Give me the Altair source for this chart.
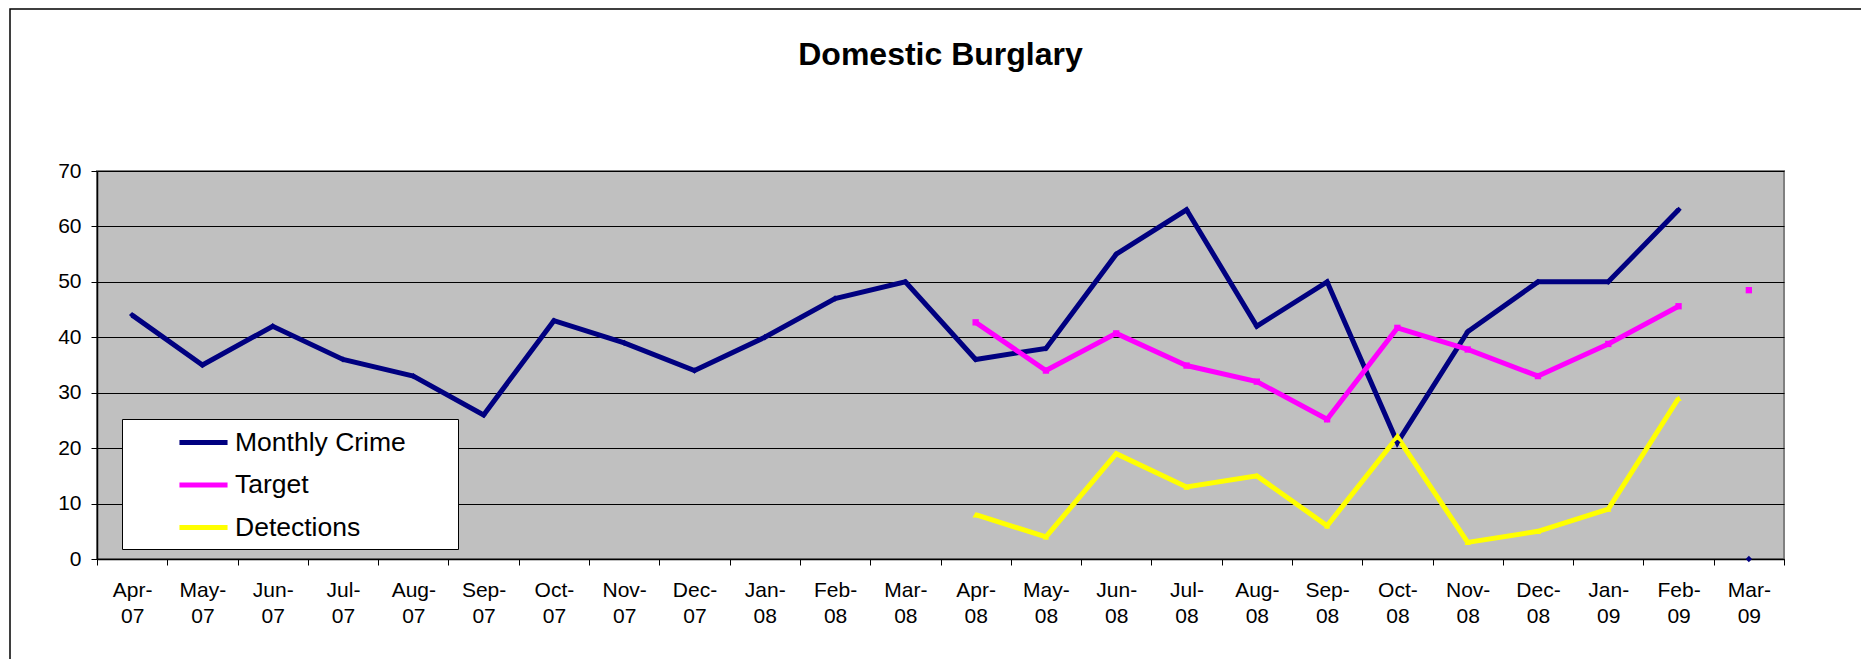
import altair as alt
import pandas as pd

months = ["Apr-07", "May-07", "Jun-07", "Jul-07", "Aug-07", "Sep-07", "Oct-07", "Nov-07",
          "Dec-07", "Jan-08", "Feb-08", "Mar-08", "Apr-08", "May-08", "Jun-08", "Jul-08",
          "Aug-08", "Sep-08", "Oct-08", "Nov-08", "Dec-08", "Jan-09", "Feb-09", "Mar-09"]

monthly_crime = [44, 35, 42, 36, 33, 26, 43, 39, 34, 40, 47, 50,
                 36, 38, 55, 63, 42, 50, 21, 41, 50, 50, 63, 0]
target = [None, None, None, None, None, None, None, None, None, None, None, None,
          42.7, 34.0, 40.7, 34.9, 32.0, 25.2, 41.7, 37.8, 33.0, 38.8, 45.6, 48.5]
detections = [None, None, None, None, None, None, None, None, None, None, None, None,
              8, 4, 19, 13, 15, 6, 22, 3, 5, 9, 29, None]

series_names = ["Monthly Crime", "Target", "Detections"]
series_colors = ["#000080", "#FF00FF", "#FFFF00"]
series_shapes = ["diamond", "square", "triangle-up"]
y_ticks = [0, 10, 20, 30, 40, 50, 60, 70]
isolated_month = "Mar-09"   # plotted as a lone marker, not joined to the line

rows = []
for name, vals in zip(series_names, [monthly_crime, target, detections]):
    for m, v in zip(months, vals):
        if v is not None:
            rows.append({"month": m, "series": name, "value": v,
                         "joined": m != isolated_month})
df = pd.DataFrame(rows)

FONT = "Liberation Sans"
PAD = "\u00a0" * 6 + "\u200b"   # widens the legend box (trailing, invisible)

x_enc = alt.X("month:N", sort=months,
              scale=alt.Scale(type="band", domain=months, paddingInner=0, paddingOuter=0),
              axis=alt.Axis(title=None, labelAngle=0, tickBand="extent", labelOverlap=False,
                            labelExpr="indexof(datum.label, '-') > 0 ? [split(datum.label, '-')[0] + '-', split(datum.label, '-')[1]] : ''",
                            labelLineHeight=26, labelPadding=14, tickSize=6,
                            labelFontSize=21, labelFont=FONT, labelColor="black",
                            domainColor="black", domainWidth=1.5, tickColor="black",
                            grid=False))
y_enc = alt.Y("value:Q",
              scale=alt.Scale(domain=[0, 70], nice=False, zero=True),
              axis=alt.Axis(title=None, values=y_ticks, labelFontSize=21, labelFont=FONT,
                            labelColor="black", labelPadding=10, tickSize=6,
                            tickColor="black", domainColor="black", domainWidth=1.5,
                            grid=True, gridColor="black", gridWidth=1))

color_scale = alt.Scale(domain=series_names, range=series_colors)

lines = alt.Chart(df).transform_filter("datum.joined").mark_line(strokeWidth=5).encode(
    x=x_enc, y=y_enc,
    color=alt.Color("series:N", scale=color_scale, sort=series_names,
                    legend=alt.Legend(title=None, orient="none", legendX=25, legendY=248,
                                      symbolType="M-1.85,0H1.85", symbolStrokeWidth=5,
                                      symbolSize=676, labelFontSize=26.5, labelFont=FONT,
                                      labelColor="black", labelLimit=500, labelOffset=16,
                                      symbolOffset=58, padding=8, rowPadding=13.5,
                                      fillColor="white", strokeColor="black",
                                      labelExpr="datum.label + '" + PAD + "'")),
)

point_layers = []
for name, col, shp in zip(series_names, series_colors, series_shapes):
    point_layers.append(
        alt.Chart(df).transform_filter(alt.datum.series == name)
        .mark_point(filled=True, opacity=1, size=40, shape=shp, color=col)
        .encode(x=x_enc, y=y_enc)
    )

frame = alt.Chart(pd.DataFrame({"a": [0]})).mark_rect(
    filled=False, stroke="black", strokeWidth=1.5
).encode(x=alt.value(-87), x2=alt.value(1800), y=alt.value(-162), y2=alt.value(600))

chart = alt.layer(frame, lines, *point_layers).properties(
    width=1687, height=388,
    title=alt.TitleParams("Domestic Burglary", fontSize=32, font=FONT, fontWeight="bold",
                          anchor="middle", frame="group", baseline="alphabetic",
                          offset=-88.5, color="black"),
    autosize=alt.AutoSizeParams(type="none"),
    padding={"left": 89, "top": 163, "right": 77, "bottom": 100},
    background="white",
).configure_view(fill="#C0C0C0", stroke="#808080", strokeWidth=2)

chart.save("out.html", embed_options={"renderer": "svg", "actions": False})
